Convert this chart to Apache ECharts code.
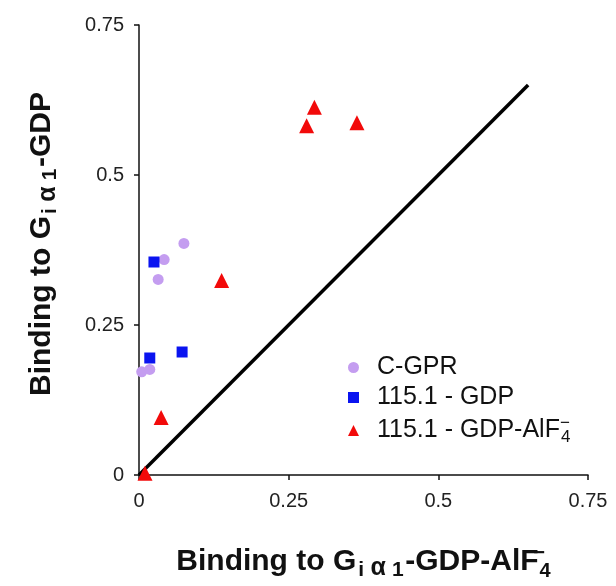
<!DOCTYPE html>
<html>
<head>
<meta charset="utf-8">
<script src="https://cdn.jsdelivr.net/npm/echarts@6/dist/echarts.min.js"></script>
<style>
  html, body { margin: 0; padding: 0; background: #fff; }
  #chart { width: 616px; height: 586px; }
</style>
</head>
<body>
<div id="chart"></div>
<script>
// values: [x = binding to GDP-AlF4-, y = binding to GDP]
const cgpr = [[0.075, 0.386], [0.042, 0.359], [0.032, 0.326], [0.0045, 0.172], [0.018, 0.176]]
const gdp = [[0.025, 0.355], [0.018, 0.195], [0.072, 0.205]]
const gdpAlf = [[0.138, 0.324], [0.293, 0.613], [0.280, 0.582], [0.364, 0.587], [0.037, 0.096], [0.010, 0.003]]
const identity = [[0, 0], [0.65, 0.65]]
const seriesNames = ['C-GPR', '115.1 - GDP', '115.1 - GDP-AlF4']
const axisTicks = [0, 0.25, 0.5, 0.75]

const font = "'Liberation Sans', Arial, sans-serif"

// rich styles for the axis titles (sub / superscripts)
const sub = { fontFamily: font, fontSize: 21, fontWeight: 'bold', color: '#111', lineHeight: 10, verticalAlign: 'bottom' }
const titleRich = {
  t: { fontFamily: font, fontSize: 30, fontWeight: 'bold', color: '#111', lineHeight: 38 },
  g: { width: 12 },
  si: Object.assign({}, sub, { width: 10 }),
  sa: Object.assign({}, sub, { fontSize: 25, width: 24 }),
  s1: Object.assign({}, sub, { width: 15 }),
  n: { fontFamily: font, fontSize: 20, fontWeight: 'bold', color: '#111', lineHeight: 2, verticalAlign: 'bottom' },
  p: { fontFamily: font, fontSize: 20, fontWeight: 'bold', color: '#111', lineHeight: 14, verticalAlign: 'top', width: 1 }
}
const legendRich = {
  g: { width: 13 },
  t: { fontFamily: font, fontSize: 25, color: '#111', lineHeight: 31 },
  n: { fontFamily: font, fontSize: 17, color: '#111', lineHeight: 2, verticalAlign: 'bottom' },
  p: { fontFamily: font, fontSize: 17, color: '#111', lineHeight: 2, verticalAlign: 'top', width: 1 }
}

const axisCommon = {
  type: 'value',
  min: axisTicks[0],
  max: axisTicks[axisTicks.length - 1],
  interval: 0.25,
  axisLine: { show: true, lineStyle: { color: '#111', width: 1.5 } },
  axisTick: { show: true, length: 5, lineStyle: { color: '#111', width: 1.5 } },
  splitLine: { show: false },
  axisLabel: { fontFamily: font, fontSize: 20, color: '#222' },
  nameLocation: 'middle'
}

const chart = echarts.init(document.getElementById('chart'), null, { renderer: 'canvas' })
chart.setOption({
  animation: false,
  grid: { left: 139, right: 28, top: 25, bottom: 109 },
  xAxis: Object.assign({}, axisCommon, {
    axisLabel: Object.assign({}, axisCommon.axisLabel, { margin: 16 }),
    name: '{t|Binding to G}{si|i}{sa|α}{s1|1}{t|-GDP-AlF}{p|−}{n|4}',
    nameGap: 68,
    nameTextStyle: { rich: titleRich }
  }),
  yAxis: Object.assign({}, axisCommon, {
    axisLabel: Object.assign({}, axisCommon.axisLabel, { margin: 15 }),
    name: '{g| }{t|Binding to G}{si|i}{sa|α}{s1|1}{t|-GDP}',
    nameGap: 78,
    nameRotate: 90,
    nameTextStyle: { rich: titleRich }
  }),
  legend: {
    orient: 'vertical',
    left: 343,
    top: 350,
    itemWidth: 11,
    itemHeight: 11,
    itemGap: 5,
    data: [
      { name: seriesNames[0], icon: 'circle' },
      { name: seriesNames[1], icon: 'rect' },
      { name: seriesNames[2], icon: 'triangle' }
    ],
    formatter: (name) => name === seriesNames[2]
      ? '{g| }{t|115.1 - GDP-AlF}{p|−}{n|4}'
      : `{g| }{t|${name}}`,
    textStyle: { rich: legendRich }
  },
  series: [
    {
      type: 'line',
      data: identity,
      symbol: 'none',
      silent: true,
      lineStyle: { color: '#000', width: 3.5 },
      z: 1
    },
    {
      name: seriesNames[0],
      type: 'scatter',
      data: cgpr,
      symbol: 'circle',
      symbolSize: 11,
      itemStyle: { color: '#c49df0', opacity: 1 },
      z: 2
    },
    {
      name: seriesNames[1],
      type: 'scatter',
      data: gdp,
      symbol: 'rect',
      symbolSize: 11,
      itemStyle: { color: '#0a14f0', opacity: 1 },
      z: 3
    },
    {
      name: seriesNames[2],
      type: 'scatter',
      data: gdpAlf,
      symbol: 'triangle',
      symbolSize: 15,
      itemStyle: { color: '#f20a0a', opacity: 1 },
      z: 4
    }
  ]
})
</script>
</body>
</html>
